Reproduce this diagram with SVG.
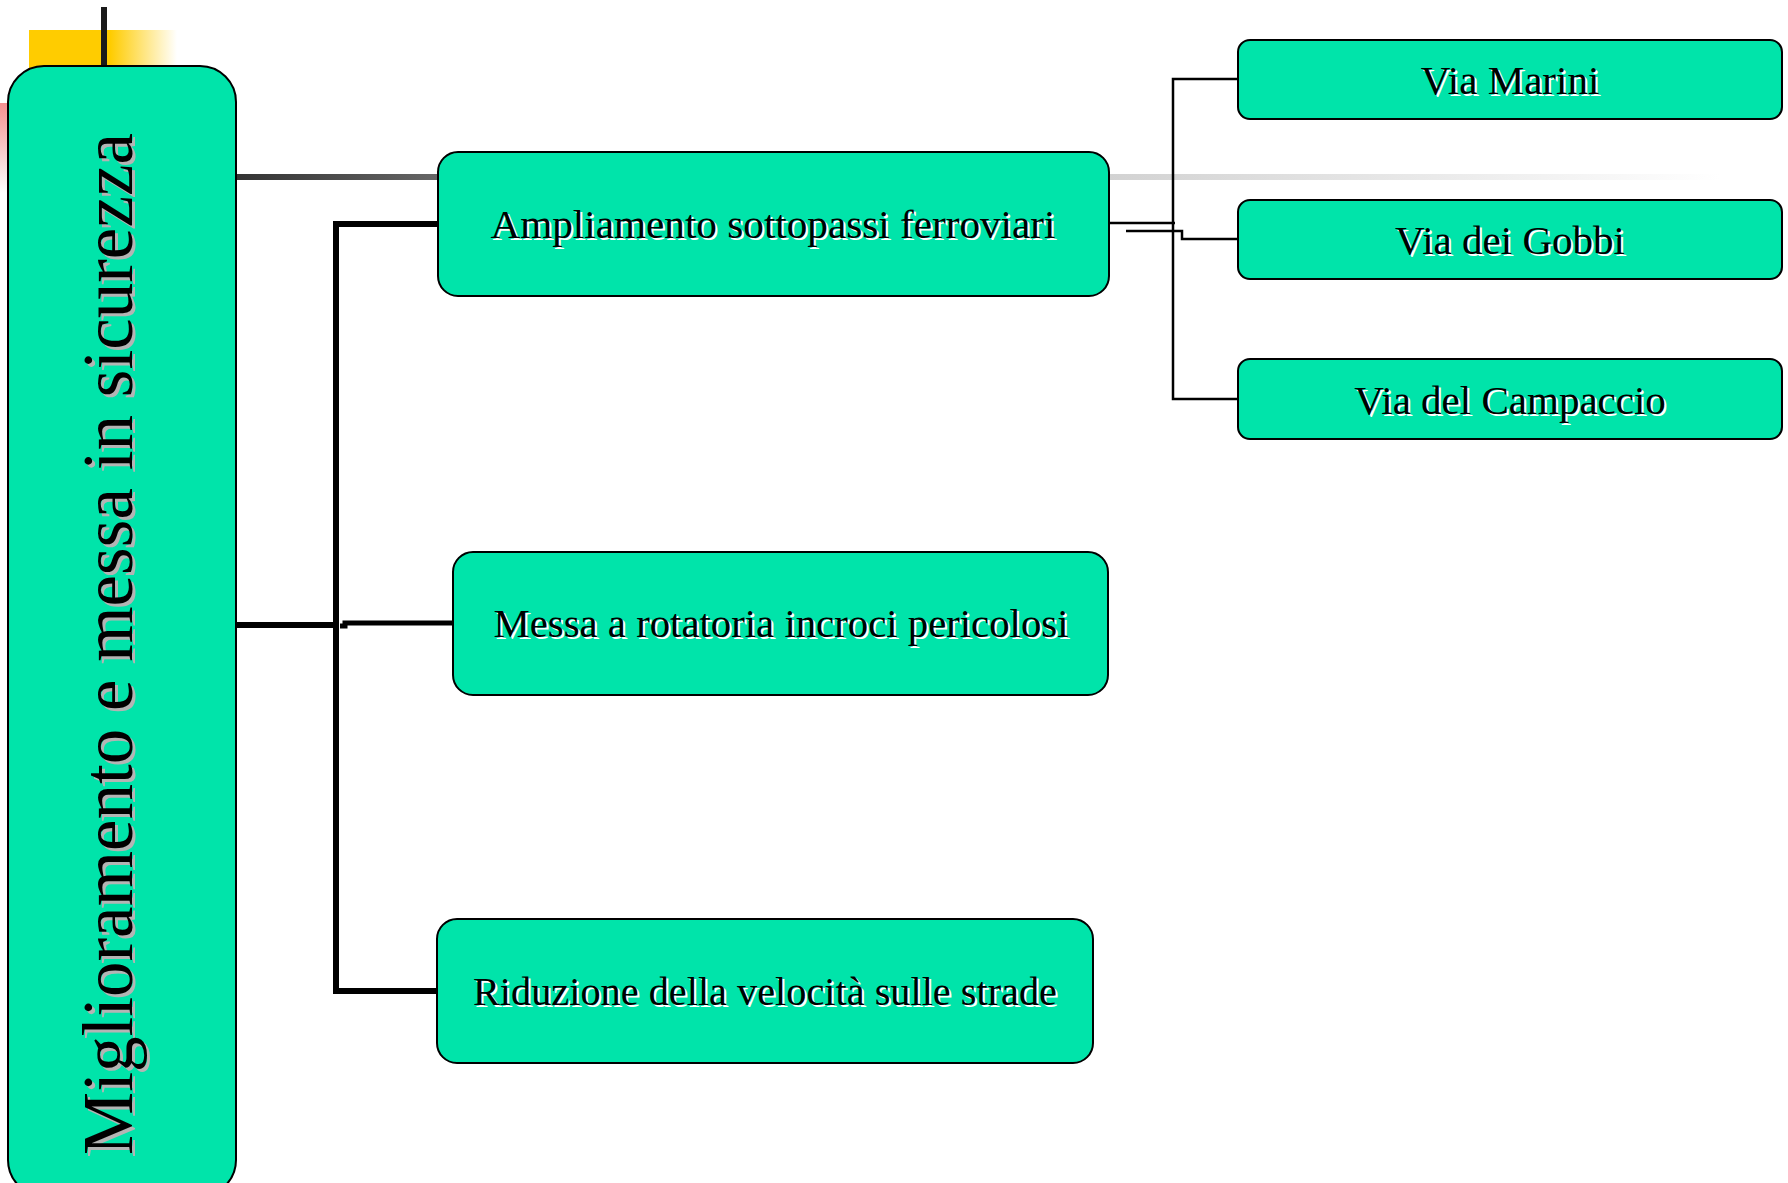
<svg xmlns="http://www.w3.org/2000/svg" width="1788" height="1183" viewBox="0 0 1788 1183">
<defs>
<linearGradient id="gYellow" x1="0" y1="0" x2="1" y2="0">
<stop offset="0" stop-color="#FFCC00"/>
<stop offset="0.55" stop-color="#FFCC00"/>
<stop offset="1" stop-color="#FFFFFF"/>
</linearGradient>
<linearGradient id="gPink" x1="0" y1="0" x2="0" y2="1">
<stop offset="0" stop-color="#F29090"/>
<stop offset="1" stop-color="#FFFFFF"/>
</linearGradient>
<linearGradient id="gGray" gradientUnits="userSpaceOnUse" x1="236" y1="0" x2="1720" y2="0">
<stop offset="0" stop-color="#333333"/>
<stop offset="0.135" stop-color="#666666"/>
<stop offset="0.588" stop-color="#D2D2D2"/>
<stop offset="1" stop-color="#FFFFFF"/>
</linearGradient>
</defs>
<style>
.box{fill:#00E4AA;stroke:#000;stroke-width:2}
.t{font-family:"Liberation Serif","Times New Roman",serif;font-size:41px;text-anchor:middle}
.sh{fill:#FFFFFF}
.fg{fill:#000000}
.mt{font-family:"Liberation Serif","Times New Roman",serif;font-size:71px}
.thick{fill:none;stroke:#000;stroke-width:6}
.thin{fill:none;stroke:#000;stroke-width:2.5}
</style>
<rect width="1788" height="1183" fill="#FFFFFF"/>
<g id="decor">
<rect x="29" y="30" width="148" height="40" fill="url(#gYellow)"/>
<rect x="0" y="103" width="30" height="90" fill="url(#gPink)"/>
<line x1="104" y1="7" x2="104" y2="70" stroke="#1A1A1A" stroke-width="6"/>
<line x1="236" y1="177" x2="1720" y2="177" stroke="url(#gGray)" stroke-width="6"/>
</g>
<g id="connectors">
<path class="thick" d="M236,625 H337"/>
<path class="thick" d="M437,224 H336 V991 H437"/>
<path d="M340,626 H345 V623 H453" fill="none" stroke="#000" stroke-width="5"/>
<path class="thin" d="M1109,223 H1175"/>
<path class="thin" d="M1238,79 H1173 V399 H1238"/>
<path class="thin" d="M1126,231 H1182 V239 H1238"/>
</g>
<g id="main">
<rect class="box" x="8" y="66" width="228" height="1130" rx="36" ry="36"/>
<g transform="translate(132,1155) rotate(-90)">
<text class="mt" x="-3" y="3" fill="#B4B4B4" textLength="1022" lengthAdjust="spacingAndGlyphs">Miglioramento e messa in sicurezza</text>
<text class="mt" x="0" y="0" fill="#000" textLength="1022" lengthAdjust="spacingAndGlyphs">Miglioramento e messa in sicurezza</text>
</g>
</g>
<g id="ampliamento">
<rect class="box" x="438" y="152" width="671" height="144" rx="20" ry="20"/>
<text class="t sh" x="775" y="240" textLength="565" lengthAdjust="spacingAndGlyphs">Ampliamento sottopassi ferroviari</text>
<text class="t fg" x="773" y="238" textLength="565" lengthAdjust="spacingAndGlyphs">Ampliamento sottopassi ferroviari</text>
</g>
<g id="messa">
<rect class="box" x="453" y="552" width="655" height="143" rx="20" ry="20"/>
<text class="t sh" x="783" y="639" textLength="575" lengthAdjust="spacingAndGlyphs">Messa a rotatoria incroci pericolosi</text>
<text class="t fg" x="781" y="637" textLength="575" lengthAdjust="spacingAndGlyphs">Messa a rotatoria incroci pericolosi</text>
</g>
<g id="riduzione">
<rect class="box" x="437" y="919" width="656" height="144" rx="20" ry="20"/>
<text class="t sh" x="767" y="1007" textLength="584" lengthAdjust="spacingAndGlyphs">Riduzione della velocità sulle strade</text>
<text class="t fg" x="765" y="1005" textLength="584" lengthAdjust="spacingAndGlyphs">Riduzione della velocità sulle strade</text>
</g>
<g id="via-marini">
<rect class="box" x="1238" y="40" width="544" height="79" rx="12" ry="12"/>
<text class="t sh" x="1512" y="96">Via Marini</text>
<text class="t fg" x="1510" y="94">Via Marini</text>
</g>
<g id="via-gobbi">
<rect class="box" x="1238" y="200" width="544" height="79" rx="12" ry="12"/>
<text class="t sh" x="1512" y="256">Via dei Gobbi</text>
<text class="t fg" x="1510" y="254">Via dei Gobbi</text>
</g>
<g id="via-campaccio">
<rect class="box" x="1238" y="359" width="544" height="80" rx="12" ry="12"/>
<text class="t sh" x="1512" y="416">Via del Campaccio</text>
<text class="t fg" x="1510" y="414">Via del Campaccio</text>
</g>
</svg>
